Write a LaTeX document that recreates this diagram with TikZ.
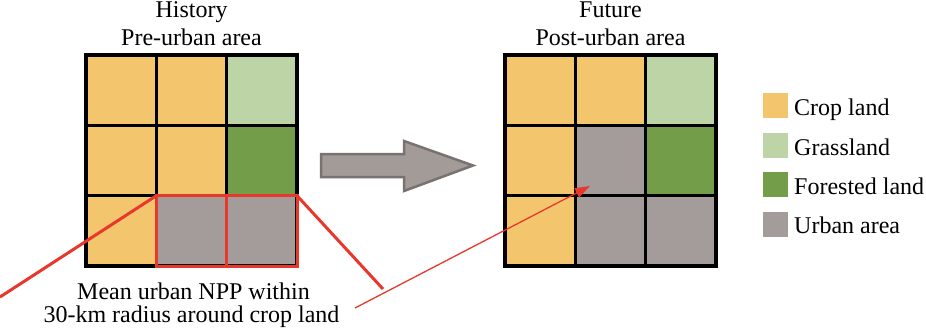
\documentclass[tikz,border=0pt]{standalone}
\usepackage{fontspec}
\setmainfont{Liberation Serif}
\usetikzlibrary{arrows.meta}
\definecolor{crop}{RGB}{243,198,110}
\definecolor{grass}{RGB}{188,212,166}
\definecolor{forest}{RGB}{116,157,73}
\definecolor{urban}{RGB}{163,156,154}
\definecolor{redl}{RGB}{232,56,44}
\definecolor{arrfill}{RGB}{162,155,152}
\definecolor{arrdraw}{RGB}{120,114,113}
\tikzset{
  gridline/.style={line width=3.6pt, line cap=rect},
  redframe/.style={draw=redl, line width=3pt},
  redthick/.style={draw=redl, line width=3pt},
  redthin/.style={draw=redl, line width=1.3pt, -{Triangle[length=15pt,width=10pt]}},
  txt/.style={inner sep=0pt, anchor=base},
  legsq/.style={minimum width=25pt, minimum height=25pt, inner sep=0pt},
  legtxt/.style={inner sep=0pt, anchor=base west},
}
\begin{document}
\begin{tikzpicture}[x=1pt,y=-1pt,font=\fontsize{24}{28}\selectfont]
\useasboundingbox (0,0) rectangle (926,330);
\def\cs{70.33}
% left grid cells
\foreach \c [count=\i from 0] in {crop,crop,grass,crop,crop,forest,crop,urban,urban}{
  \pgfmathtruncatemacro\col{mod(\i,3)}
  \pgfmathtruncatemacro\row{int(\i/3)}
  \fill[\c] ({86+\col*\cs},{55+\row*\cs}) rectangle ++(\cs,\cs);
}
% right grid cells
\foreach \c [count=\i from 0] in {crop,crop,grass,crop,urban,forest,crop,urban,urban}{
  \pgfmathtruncatemacro\col{mod(\i,3)}
  \pgfmathtruncatemacro\row{int(\i/3)}
  \fill[\c] ({505+\col*\cs},{55+\row*\cs}) rectangle ++(\cs,\cs);
}
% grid lines
\foreach \ox in {86,505}{
  \foreach \k in {0,1,2,3}{
    \draw[gridline] ({\ox+\k*\cs},55) -- ({\ox+\k*\cs},266);
    \draw[gridline] (\ox,{55+\k*\cs}) -- ({\ox+211},{55+\k*\cs});
  }
}
% coordinates
\coordinate (rA) at (156.3,195.7);
\coordinate (rB) at (297,195.7);
\coordinate (rC) at (297,266);
\coordinate (rD) at (156.3,266);
\coordinate (rM1) at (226.7,195.7);
\coordinate (rM2) at (226.7,266);
\coordinate (lend) at (0,297);
\coordinate (rend) at (383,289);
\coordinate (astart) at (355,308);
\coordinate (aend) at (590,186);
% red frame
\draw[redframe] (rA) rectangle (rC);
\draw[redframe] (rM1) -- (rM2);
\draw[redthick] (rA) -- (lend);
\draw[redthick] (rB) -- (rend);
\draw[redthin] (astart) -- (aend);
% big gray arrow
\draw[fill=arrfill, draw=arrdraw, line width=2.5pt, line join=miter]
  (321,154) -- (404,154) -- (404,141) -- (473,165.5) -- (404,191) -- (404,177) -- (321,177) -- cycle;
% titles
\node[txt] (hist) at (191.5,17) {History};
\node[txt] (pre) at (191.5,45) {Pre-urban area};
\node[txt] (fut) at (610.5,17) {Future};
\node[txt] (post) at (610.5,45) {Post-urban area};
\node[txt] (mean1) at (193.5,299) {Mean urban NPP within};
\node[txt] (mean2) at (191.5,322) {30-km radius around crop land};
% legend
\node[legsq, fill=crop] (l1) at (775.5,105.5) {};
\node[legsq, fill=grass] (l2) at (775.5,145.5) {};
\node[legsq, fill=forest] (l3) at (775.5,184.5) {};
\node[legsq, fill=urban] (l4) at (775.5,224) {};
\node[legtxt] (t1) at (794,115) {Crop land};
\node[legtxt] (t2) at (794,155) {Grassland};
\node[legtxt] (t3) at (794,194) {Forested land};
\node[legtxt] (t4) at (794,233) {Urban area};
\end{tikzpicture}
\end{document}
